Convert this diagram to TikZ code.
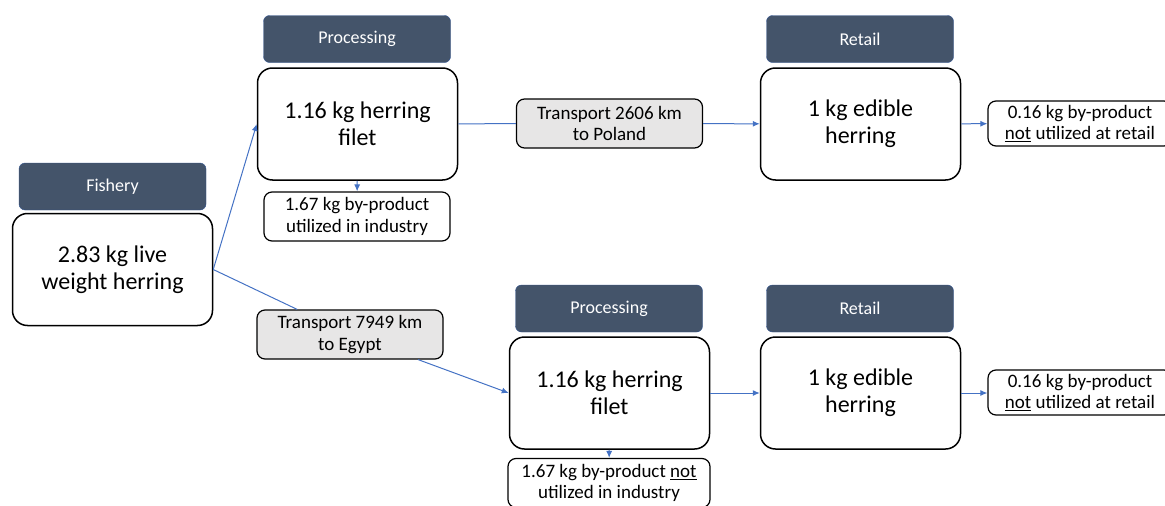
\documentclass[tikz,border=0pt]{standalone}
\usepackage{fontspec}
\setmainfont{Carlito}
\usetikzlibrary{positioning,arrows.meta}
\definecolor{hdrblue}{HTML}{44546A}
\definecolor{hdredge}{HTML}{2F528F}
\definecolor{lnblue}{HTML}{4472C4}
\definecolor{trgray}{HTML}{E7E6E6}

\begin{document}
\begin{tikzpicture}[>={Latex[length=7pt,width=6pt]}, x=1pt, y=-1pt,
  hdr/.style={draw=hdredge, fill=hdrblue, text=white, rounded corners=6pt,
    minimum width=187pt, minimum height=47pt, font=\fontsize{18}{22}\selectfont},
  stage/.style={draw, line width=1.5pt, rounded corners=15pt, minimum width=200pt,
    minimum height=112pt, align=center, font=\fontsize{24}{27}\selectfont},
  bybox/.style={draw, line width=1.2pt, rounded corners=8pt, minimum width=186pt,
    minimum height=49pt, inner sep=2pt, align=center, font=\fontsize{19}{21.7}\selectfont},
  trbox/.style={bybox, fill=trgray},
  flow/.style={->, lnblue, line width=1pt}]
  \useasboundingbox (0,0) rectangle (1165,506);

  % fishery
  \node[hdr] (fishH) at (112.5,186.5) {Fishery};
  \node[stage] (fish) at (112.5,269.5) {2.83 kg live\\weight herring};

  % route to Poland
  \node[hdr] (proc1H) at (357,39) {Processing};
  \node[stage] (proc1) at (357.5,124) {1.16 kg herring\\filet};
  \node[bybox] (by1) at (357,216.5) {1.67 kg by-product\\utilized in industry};
  \node[trbox] (tpol) at (609.5,123.5) {Transport 2606 km\\to Poland};
  \node[hdr] (ret1H) at (860,39) {Retail};
  \node[stage] (ret1) at (860.5,124) {1 kg edible\\herring};
  \node[bybox, minimum height=45pt, minimum width=184pt] (rest1) at (1080,123.5)
    {0.16 kg by-product\\\underline{not} utilized at retail};

  % route to Egypt
  \node[trbox] (tegy) at (350,334.5) {Transport 7949 km\\to Egypt};
  \node[hdr] (proc2H) at (609,308.5) {Processing};
  \node[stage] (proc2) at (609.5,393) {1.16 kg herring\\filet};
  \node[bybox, minimum width=202pt] (by2) at (609,483)
    {1.67 kg by-product \underline{not}\\utilized in industry};
  \node[hdr] (ret2H) at (860,308.5) {Retail};
  \node[stage] (ret2) at (860.5,393) {1 kg edible\\herring};
  \node[bybox, minimum height=45pt, minimum width=184pt] (rest2) at (1080,392.5)
    {0.16 kg by-product\\\underline{not} utilized at retail};

  % flows
  \draw[flow] (fish.east) -- (proc1.west);
  \draw[flow] (proc1) -- (by1);
  \draw[lnblue, line width=1pt] (proc1) -- (tpol);
  \draw[flow] (tpol) -- (ret1);
  \draw[flow] (ret1) -- (rest1);
  \draw[lnblue, line width=1pt] (fish.east) -- (tegy);
  \draw[flow] (tegy) -- (proc2.west);
  \draw[flow] (proc2) -- (by2);
  \draw[flow] (ret2) -- (ret2 -| rest2.west);
  \draw[flow] (proc2) -- (ret2);
\end{tikzpicture}
\end{document}
